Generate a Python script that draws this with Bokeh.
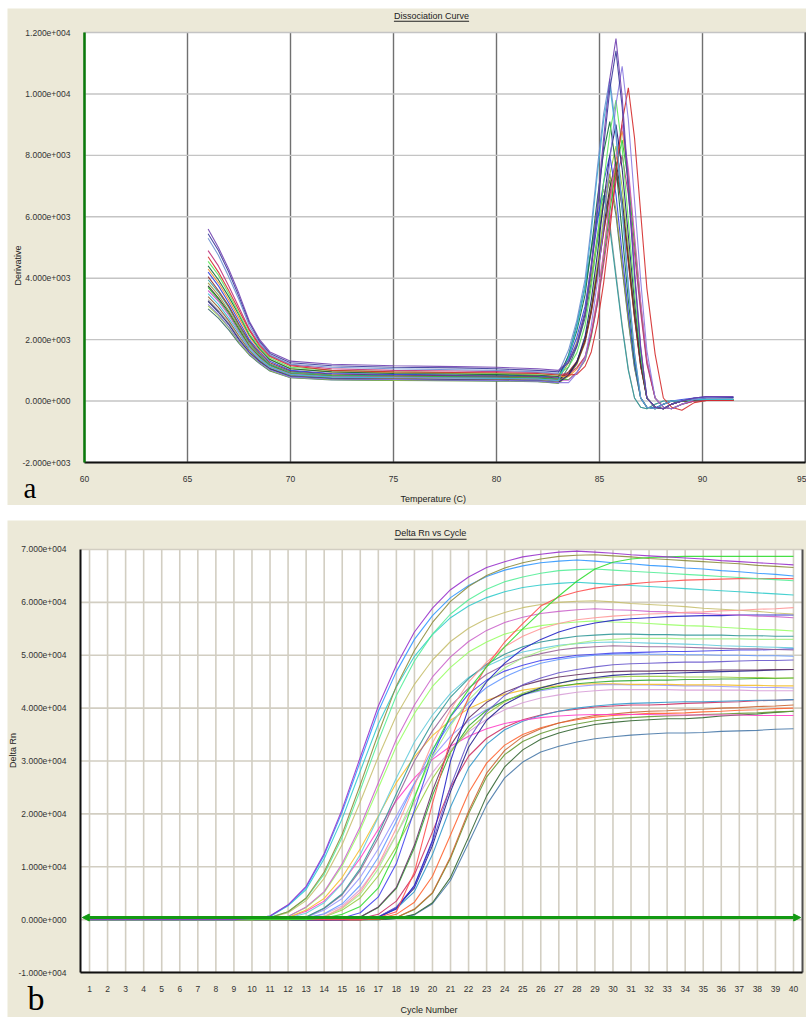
import math
from bokeh.plotting import figure
from bokeh.layouts import column, row
from bokeh.models import (Range1d, Label, BoxAnnotation, Arrow, NormalHead,
                          FixedTicker, Spacer)
from bokeh.embed import file_html
from bokeh.resources import INLINE

# ---------------- Panel a: dissociation (melt) curves, values in thousands ----------------
melt_temp = [66, 66.5, 67, 67.5, 68, 68.5, 69, 70, 72, 75, 78, 80, 82, 83,
             83.5, 83.9, 84.3, 84.6, 84.9, 85.2, 85.5, 85.8, 86.1, 86.4, 86.7, 87.0,
             87.3, 87.7, 88.1, 88.5, 89.0, 89.6, 90.2, 91.5]

a_purple = [5.6, 5.0, 4.3, 3.5, 2.6, 2.0, 1.6, 1.3, 1.2, 1.15, 1.12, 1.1, 1.05, 1.0,
            1.32, 1.86, 2.94, 4.46, 6.4, 8.56, 10.5, 11.8, 9.91, 7.08, 4.25, 1.77, 0.1, -0.2, -0.25, -0.1, 0.0, 0.1, 0.15, 0.15]
a_navy = [5.45, 4.9, 4.2, 3.4, 2.55, 1.95, 1.55, 1.25, 1.15, 1.1, 1.08, 1.05, 1.0, 0.95,
          1.26, 1.79, 2.83, 4.29, 6.18, 8.27, 10.15, 11.4, 9.58, 6.84, 4.1, 1.71, 0.1, -0.2, -0.25, -0.1, 0.0, 0.1, 0.15, 0.12]
a_steel = [5.3, 4.75, 4.05, 3.3, 2.45, 1.9, 1.5, 1.2, 1.1, 1.05, 1.02, 1.0, 0.95, 0.9,
           1.67, 2.63, 3.97, 5.7, 7.62, 9.35, 10.5, 8.82, 6.3, 3.78, 1.58, 0.1, -0.2, -0.25, -0.1, 0.0, 0.02, 0.08, 0.1, 0.1]
a_red = [4.7, 4.2, 3.6, 2.95, 2.3, 1.8, 1.45, 1.15, 1.0, 0.95, 0.93, 0.92, 0.9, 0.85,
         0.85, 0.87, 1.13, 1.6, 2.53, 3.84, 5.53, 7.4, 9.08, 10.2, 8.57, 6.12, 3.67, 1.53, 0.1, -0.2, -0.3, -0.05, 0.02, 0.02]
a_lgreen = [4.55, 4.1, 3.5, 2.85, 2.2, 1.75, 1.4, 1.1, 1.0, 0.95, 0.92, 0.9, 0.88, 0.85,
            1.12, 1.57, 2.46, 3.71, 5.33, 7.12, 8.73, 9.8, 8.23, 5.88, 3.53, 1.47, 0.1, -0.2, -0.25, -0.1, 0.0, 0.05, 0.05, 0.05]
a_dgreen = [4.4, 3.95, 3.4, 2.8, 2.15, 1.7, 1.35, 1.05, 0.95, 0.9, 0.88, 0.86, 0.84, 0.8,
            1.46, 2.29, 3.46, 4.95, 6.61, 8.1, 9.1, 7.64, 5.46, 3.28, 1.37, 0.1, -0.2, -0.25, -0.1, 0.0, 0.0, 0.03, 0.05, 0.05]
a_orange = [4.3, 3.85, 3.3, 2.7, 2.1, 1.65, 1.35, 1.05, 0.95, 0.92, 0.9, 0.88, 0.85, 0.8,
            0.8, 1.04, 1.44, 2.24, 3.36, 4.8, 6.4, 7.84, 8.8, 7.39, 5.28, 3.17, 1.32, 0.1, -0.2, -0.25, -0.1, 0.0, 0.03, 0.03]
a_blue = [4.2, 3.75, 3.2, 2.6, 2.0, 1.6, 1.3, 1.0, 0.9, 0.87, 0.85, 0.85, 0.82, 0.78,
          1.36, 2.08, 3.09, 4.39, 5.83, 7.13, 8.0, 6.72, 4.8, 2.88, 1.2, 0.1, -0.2, -0.22, -0.1, 0.0, 0.05, 0.1, 0.12, 0.12]
a_dred = [4.05, 3.6, 3.1, 2.5, 1.95, 1.55, 1.25, 0.98, 0.88, 0.85, 0.83, 0.82, 0.8, 0.75,
          0.95, 1.29, 1.97, 2.91, 4.13, 5.48, 6.69, 7.5, 6.3, 4.5, 2.7, 1.13, 0.1, -0.2, -0.25, -0.1, 0.0, 0.02, 0.03, 0.03]
a_teal = [3.95, 3.55, 3.05, 2.45, 1.9, 1.5, 1.2, 0.95, 0.85, 0.82, 0.8, 0.8, 0.78, 0.72,
          1.5, 2.5, 3.71, 4.91, 5.98, 6.7, 5.63, 4.02, 2.41, 1.0, 0.1, -0.2, -0.25, -0.1, 0.0, 0.0, 0.02, 0.05, 0.05, 0.05]
a_olive = [3.85, 3.45, 2.95, 2.4, 1.85, 1.48, 1.2, 0.93, 0.85, 0.82, 0.8, 0.79, 0.77, 0.72,
           1.25, 1.92, 2.86, 4.06, 5.4, 6.6, 7.4, 6.22, 4.44, 2.66, 1.11, 0.1, -0.2, -0.25, -0.1, 0.0, 0.0, 0.02, 0.03, 0.03]
a_black = [3.75, 3.35, 2.9, 2.35, 1.8, 1.45, 1.18, 0.9, 0.82, 0.8, 0.78, 0.77, 0.75, 0.7,
           0.91, 1.27, 1.98, 2.97, 4.25, 5.67, 6.95, 7.8, 6.55, 4.68, 2.81, 1.17, 0.1, -0.2, -0.25, -0.1, 0.0, 0.0, 0.02, 0.02]
a_green = [3.7, 3.3, 2.85, 2.3, 1.78, 1.42, 1.15, 0.9, 0.82, 0.8, 0.78, 0.76, 0.74, 0.7,
           0.7, 0.93, 1.32, 2.1, 3.2, 4.6, 6.16, 7.56, 8.5, 7.14, 5.1, 3.06, 1.28, 0.1, -0.2, -0.25, -0.1, 0.0, 0.02, 0.02]
a_pink = [3.6, 3.25, 2.8, 2.25, 1.75, 1.4, 1.12, 0.88, 0.8, 0.78, 0.76, 0.75, 0.72, 0.68,
          0.68, 0.93, 1.35, 2.18, 3.34, 4.84, 6.5, 8.0, 9.0, 7.56, 5.4, 3.24, 1.35, 0.1, -0.2, -0.25, -0.1, 0.0, 0.05, 0.05]
a_cyan = [3.5, 3.15, 2.7, 2.2, 1.7, 1.36, 1.1, 0.86, 0.78, 0.76, 0.75, 0.74, 0.72, 0.66,
          1.43, 2.4, 3.74, 5.48, 7.41, 9.14, 10.3, 8.65, 6.18, 3.71, 1.55, 0.1, -0.2, -0.25, -0.1, 0.0, 0.02, 0.05, 0.05, 0.05]
a_brown = [3.4, 3.05, 2.62, 2.12, 1.65, 1.32, 1.07, 0.84, 0.76, 0.74, 0.72, 0.72, 0.7, 0.65,
           0.86, 1.21, 1.9, 2.87, 4.13, 5.52, 6.77, 7.6, 6.38, 4.56, 2.74, 1.14, 0.1, -0.2, -0.25, -0.1, 0.0, 0.02, 0.02, 0.02]
a_gray = [3.3, 2.95, 2.55, 2.05, 1.6, 1.3, 1.05, 0.82, 0.75, 0.72, 0.7, 0.7, 0.68, 0.62,
          1.5, 2.5, 3.76, 5.02, 6.15, 6.9, 5.8, 4.14, 2.48, 1.04, 0.1, -0.2, -0.25, -0.1, 0.0, 0.0, 0.02, 0.03, 0.03, 0.03]
a_dnavy = [3.25, 2.9, 2.5, 2.0, 1.58, 1.28, 1.04, 0.8, 0.73, 0.7, 0.69, 0.68, 0.66, 0.6,
           0.85, 1.27, 2.11, 3.29, 4.8, 6.48, 7.99, 9.0, 7.56, 5.4, 3.24, 1.35, 0.1, -0.2, -0.25, -0.1, 0.0, 0.05, 0.1, 0.1]
a_lavender = [3.15, 2.82, 2.42, 1.95, 1.55, 1.26, 1.02, 0.78, 0.72, 0.7, 0.68, 0.67, 0.65, 0.6,
              0.6, 0.91, 1.42, 2.45, 3.9, 5.75, 7.81, 9.66, 10.9, 9.16, 6.54, 3.92, 1.64, 0.1, -0.2, -0.25, -0.1, 0.05, 0.12, 0.12]
a_ygreen = [3.1, 2.78, 2.4, 1.92, 1.52, 1.25, 1.0, 0.77, 0.7, 0.68, 0.66, 0.66, 0.64, 0.58,
            0.81, 1.2, 1.97, 3.05, 4.44, 5.98, 7.37, 8.3, 6.97, 4.98, 2.99, 1.25, 0.1, -0.2, -0.25, -0.1, 0.0, 0.02, 0.02, 0.02]
a_magenta = [4.9, 4.4, 3.75, 3.05, 2.35, 1.85, 1.48, 1.18, 1.05, 1.0, 0.98, 0.96, 0.93, 0.88,
             0.88, 1.09, 1.45, 2.16, 3.16, 4.44, 5.86, 7.15, 8.0, 6.72, 4.8, 2.88, 1.2, 0.1, -0.2, -0.25, -0.1, 0.0, 0.02, 0.02]
a_slate = [3.0, 2.7, 2.32, 1.88, 1.5, 1.22, 0.98, 0.76, 0.69, 0.67, 0.66, 0.65, 0.63, 0.58,
           1.11, 1.77, 2.7, 3.89, 5.21, 6.41, 7.2, 6.05, 4.32, 2.59, 1.08, 0.1, -0.2, -0.25, -0.1, 0.0, 0.0, 0.02, 0.02, 0.02]

a_series = [
    (a_slate, "#3A6A6A"), (a_ygreen, "#9ACD32"), (a_gray, "#9A9A9A"), (a_brown, "#8E5C2E"),
    (a_black, "#2A2A2A"), (a_olive, "#9A9A3A"), (a_teal, "#2E9A9A"), (a_dred, "#8E2C2C"),
    (a_blue, "#3040E0"), (a_orange, "#EE9030"), (a_green, "#2EBB2E"), (a_pink, "#C858C8"),
    (a_magenta, "#C0307A"), (a_dgreen, "#0E6B3B"), (a_dnavy, "#1C1C70"), (a_lgreen, "#5BE85B"),
    (a_cyan, "#38B8D8"), (a_red, "#D42A2A"), (a_lavender, "#8A7AE0"), (a_steel, "#6A8FD0"),
    (a_navy, "#3A3A9A"), (a_purple, "#7040B0"),
]

a_xticks = [60, 65, 70, 75, 80, 85, 90, 95]
a_yticks = [-2000, 0, 2000, 4000, 6000, 8000, 10000, 12000]
a_ylabels = ["-2.000e+003", "0.000e+000", "2.000e+003", "4.000e+003", "6.000e+003",
             "8.000e+003", "1.000e+004", "1.200e+004"]

# ---------------- Panel b: amplification curves (Delta Rn, thousands), each list ends at cycle 40 ----------------
b_purple = [0.2, 0.7, 2.8, 6.3, 12.5, 20.9, 30.7, 40.4, 48.1, 54.4, 58.9, 62.4, 64.8, 66.6, 67.7, 68.6, 69.1, 69.5, 69.7, 69.5, 69.3, 69.0, 68.8, 68.6, 68.4, 68.2, 67.9, 67.7, 67.5, 67.3, 67.1]
b_olive = [0.4, 1.5, 4.1, 9.0, 16.2, 25.5, 35.2, 44.2, 50.9, 56.2, 60.2, 63.0, 65.1, 66.5, 67.5, 68.2, 68.7, 68.9, 69.0, 68.8, 68.6, 68.3, 68.1, 67.9, 67.7, 67.5, 67.3, 67.0, 66.8, 66.6]
b_blue = [0.2, 0.7, 2.7, 6.1, 12.2, 20.4, 29.9, 39.4, 46.9, 53.0, 57.5, 60.9, 63.2, 64.9, 66.1, 66.9, 67.5, 67.8, 68.0, 67.8, 67.5, 67.3, 67.0, 66.8, 66.5, 66.3, 66.0, 65.8, 65.5, 65.3, 65.0]
b_mint = [0.4, 1.5, 4.0, 8.6, 15.6, 24.5, 33.8, 42.4, 48.9, 54.0, 57.8, 60.5, 62.5, 63.9, 64.8, 65.5, 66.0, 66.2, 66.3, 66.1, 65.9, 65.7, 65.5, 65.3, 65.1, 64.9, 64.7, 64.5, 64.3, 64.1]
b_cyan = [0.2, 0.6, 2.6, 5.7, 11.5, 19.1, 28.1, 37.0, 44.0, 49.8, 53.9, 57.1, 59.3, 60.9, 62.0, 62.8, 63.3, 63.6, 63.8, 63.6, 63.4, 63.2, 63.0, 62.8, 62.6, 62.4, 62.2, 62.0, 61.8, 61.6, 61.4]
b_khaki = [0.4, 1.3, 3.6, 7.8, 14.2, 22.3, 30.8, 38.6, 44.5, 49.1, 52.6, 55.1, 56.9, 58.1, 59.0, 59.6, 60.0, 60.2, 60.3, 60.1, 59.8, 59.6, 59.4, 59.2, 58.9, 58.7, 58.5, 58.3, 58.0, 57.8]
b_magenta = [0.2, 0.6, 2.4, 5.3, 10.6, 17.6, 25.9, 34.1, 40.6, 45.9, 49.7, 52.6, 54.7, 56.2, 57.2, 57.9, 58.3, 58.6, 58.8, 58.6, 58.5, 58.3, 58.2, 58.0, 57.9, 57.7, 57.6, 57.4, 57.3, 57.1]
b_lgreen = [0.2, 0.6, 2.3, 5.1, 10.2, 17.0, 24.9, 32.8, 39.0, 44.1, 47.7, 50.6, 52.5, 54.0, 54.9, 55.6, 56.0, 56.3, 56.5, 56.3, 56.2, 56.0, 55.8, 55.6, 55.5, 55.3, 55.1, 54.9, 54.8, 54.6]
b_bgreen = [0.3, 1.0, 2.5, 6.0, 13.0, 23.0, 32.0, 38.5, 43.5, 47.8, 51.6, 55.0, 58.2, 61.2, 64.0, 66.3, 67.6, 68.2, 68.5, 68.6, 68.7, 68.7, 68.7, 68.7, 68.7, 68.7, 68.7]
b_red = [0.4, 1.5, 9.0, 22.0, 34.0, 42.0, 48.0, 52.5, 56.0, 59.3, 61.0, 62.0, 62.7, 63.1, 63.5, 63.8, 64.0, 64.2, 64.3, 64.4, 64.5, 64.5, 64.5, 64.5]
b_dblue = [0.5, 2.0, 6.5, 15.0, 30.0, 40.0, 45.0, 48.5, 51.2, 53.0, 54.4, 55.4, 56.1, 56.6, 56.9, 57.1, 57.3, 57.4, 57.5, 57.5, 57.6, 57.6, 57.6, 57.6]
b_teal = [0.2, 0.5, 2.2, 4.9, 9.7, 16.2, 23.8, 31.3, 37.3, 42.1, 45.6, 48.3, 50.2, 51.6, 52.5, 53.1, 53.6, 53.8, 54.0, 54.0, 53.9, 53.9, 53.8, 53.8, 53.8, 53.7, 53.7, 53.6, 53.6]
b_lcyan = [0.3, 1.2, 3.2, 6.8, 12.3, 19.4, 26.8, 33.6, 38.7, 42.8, 45.8, 47.9, 49.5, 50.6, 51.3, 51.9, 52.2, 52.4, 52.5, 52.4, 52.3, 52.2, 52.1, 52.0, 51.8, 51.7, 51.6, 51.5, 51.4]
b_mauve = [0.2, 0.5, 2.1, 4.7, 9.3, 15.5, 22.8, 30.0, 35.7, 40.4, 43.8, 46.4, 48.2, 49.5, 50.3, 51.0, 51.4, 51.6, 51.8, 51.7, 51.6, 51.6, 51.5, 51.4, 51.3, 51.2, 51.2, 51.1, 51.0]
b_cornflower = [0.3, 1.1, 3.0, 6.5, 11.8, 18.6, 25.7, 32.2, 37.1, 41.0, 43.9, 45.9, 47.4, 48.5, 49.2, 49.7, 50.0, 50.2, 50.3, 50.2, 50.2, 50.1, 50.1, 50.0, 50.0, 49.9, 49.9, 49.8]
b_pgreen = [0.2, 0.5, 2.1, 4.8, 9.6, 16.0, 23.4, 30.9, 36.7, 41.5, 45.0, 47.6, 49.5, 50.8, 51.7, 52.3, 52.8, 53.0, 53.2, 53.2, 53.2, 53.1, 53.1, 53.1, 53.1, 53.0, 53.0, 53.0]
b_navy = [0.1, 0.5, 2.3, 6.0, 14.0, 24.2, 32.6, 37.7, 40.7, 42.5, 43.8, 44.7, 45.4, 45.8, 46.2, 46.4, 46.5, 46.6, 46.7, 46.8, 46.9, 47.0, 47.1, 47.2, 47.3]
b_green = [0.1, 0.5, 2.3, 5.9, 13.6, 23.5, 31.6, 36.6, 39.6, 41.4, 42.6, 43.5, 44.1, 44.6, 44.9, 45.1, 45.2, 45.3, 45.3, 45.4, 45.4, 45.5, 45.5, 45.6, 45.6, 45.7]
b_gold = [0.1, 0.4, 1.8, 4.0, 8.0, 13.4, 19.6, 25.9, 30.8, 34.8, 37.7, 39.9, 41.5, 42.6, 43.4, 43.9, 44.2, 44.5, 44.6, 44.6, 44.5, 44.5, 44.5, 44.4, 44.4, 44.4, 44.3, 44.3, 44.2, 44.2]
b_lilacblue = [0.1, 0.4, 1.8, 4.0, 8.0, 13.4, 19.6, 25.8, 30.7, 34.7, 37.6, 39.8, 41.4, 42.5, 43.3, 43.8, 44.1, 44.4, 44.5, 44.4, 44.4, 44.3, 44.2, 44.2, 44.1, 44.0, 43.9, 43.9, 43.8]
b_pinklilac = [0.3, 1.0, 2.6, 5.7, 10.2, 16.1, 22.2, 27.8, 32.1, 35.5, 37.9, 39.7, 41.0, 41.9, 42.5, 43.0, 43.3, 43.5, 43.5, 43.5, 43.5, 43.4, 43.4, 43.4, 43.4, 43.3, 43.3, 43.3]
b_hotpink = [0.1, 0.4, 1.6, 3.5, 7.0, 11.6, 17.1, 22.5, 26.8, 30.3, 32.8, 34.7, 36.1, 37.1, 37.7, 38.2, 38.5, 38.7, 38.8, 38.8, 38.8, 38.8, 38.7, 38.7, 38.7, 38.7, 38.7, 38.6, 38.6, 38.6]
b_steelcyan = [0.1, 0.4, 2.1, 5.3, 12.3, 21.3, 28.7, 33.2, 35.9, 37.5, 38.6, 39.4, 40.0, 40.4, 40.7, 40.9, 41.0, 41.1, 41.2, 41.2, 41.3, 41.4, 41.5, 41.5, 41.6]
b_crimson = [0.2, 1.0, 3.5, 8.5, 16.6, 25.0, 30.9, 34.3, 36.4, 37.8, 38.7, 39.4, 39.8, 40.2, 40.4, 40.6, 40.6, 40.7, 40.9, 41.0, 41.1, 41.2, 41.4, 41.5, 41.6]
b_obrown = [0.1, 0.4, 2.0, 5.1, 11.9, 20.5, 27.7, 32.0, 34.6, 36.1, 37.2, 38.0, 38.6, 38.9, 39.2, 39.4, 39.5, 39.7, 39.8, 40.0, 40.1, 40.3, 40.4, 40.6]
b_ored = [0.2, 1.0, 3.3, 8.2, 16.0, 24.0, 29.6, 33.0, 35.0, 36.3, 37.2, 37.8, 38.3, 38.6, 38.8, 39.0, 39.0, 39.1, 39.3, 39.4, 39.6, 39.7, 39.9, 40.0]
b_ogreen = [0.1, 0.4, 1.9, 5.0, 11.6, 20.0, 27.0, 31.2, 33.7, 35.2, 36.3, 37.0, 37.6, 38.0, 38.2, 38.4, 38.5, 38.6, 38.8, 38.9, 39.0, 39.1, 39.3, 39.4]
b_dgreen = [0.2, 1.0, 3.2, 8.0, 15.6, 23.4, 28.9, 32.1, 34.1, 35.3, 36.2, 36.9, 37.3, 37.6, 37.8, 38.0, 38.0, 38.2, 38.5, 38.7, 38.9, 39.2, 39.4]
b_steel = [0.2, 0.9, 3.0, 7.4, 14.5, 21.7, 26.8, 29.8, 31.7, 32.8, 33.6, 34.2, 34.6, 34.9, 35.1, 35.3, 35.3, 35.4, 35.6, 35.7, 35.8, 36.0, 36.1]
b_plum = [0.1, 0.5, 2.4, 6.1, 14.1, 24.4, 32.9, 38.1, 41.1, 43.0, 44.3, 45.2, 45.9, 46.3, 46.7, 46.9, 47.0, 47.0, 47.1, 47.1, 47.1, 47.2, 47.2, 47.2, 47.3, 47.3]
b_slateblue = [0.1, 0.5, 2.4, 6.3, 14.6, 25.2, 34.0, 39.3, 42.4, 44.4, 45.7, 46.7, 47.3, 47.8, 48.2, 48.4, 48.5, 48.6, 48.7, 48.7, 48.8, 48.9, 49.0, 49.0, 49.1]
b_ygreen = [0.1, 0.5, 1.8, 4.1, 8.3, 13.8, 20.2, 26.7, 31.7, 35.9, 38.9, 41.2, 42.8, 43.9, 44.7, 45.3, 45.6, 45.9, 46.0, 46.0, 46.0, 45.9, 45.9, 45.9, 45.8, 45.8, 45.7, 45.7]
b_pink = [0.2, 0.6, 2.3, 5.2, 10.4, 17.3, 25.3, 33.4, 39.7, 44.9, 48.7, 51.6, 53.6, 55.0, 56.0, 56.7, 57.1, 57.4, 57.6, 57.8, 57.9, 58.1, 58.2, 58.4, 58.5, 58.7, 58.8, 59.0]
b_blue2 = [0.3, 1.3, 4.3, 10.6, 20.7, 31.1, 38.4, 42.7, 45.3, 47.0, 48.1, 49.0, 49.5, 50.0, 50.2, 50.4, 50.5, 50.6, 50.7, 50.7, 50.8, 50.9, 51.0, 51.0, 51.1, 51.2]

b_series = [
    (b_steel, "#4A7AAA"), (b_dgreen, "#336633"), (b_ogreen, "#669933"), (b_ored, "#FF6633"),
    (b_obrown, "#CC6633"), (b_crimson, "#CC3366"), (b_steelcyan, "#3399CC"), (b_hotpink, "#FF40C8"),
    (b_pinklilac, "#D8A0D8"), (b_lilacblue, "#9999FF"), (b_gold, "#F5C030"), (b_green, "#33AA33"),
    (b_ygreen, "#99CC44"), (b_navy, "#22228F"), (b_plum, "#663366"), (b_slateblue, "#6A5ACD"),
    (b_cornflower, "#6699FF"), (b_blue2, "#4444EE"), (b_mauve, "#996699"), (b_lcyan, "#66CCDD"),
    (b_pgreen, "#A8EE88"), (b_teal, "#339999"), (b_lgreen, "#99FF66"), (b_dblue, "#2525C8"),
    (b_magenta, "#CC66CC"), (b_khaki, "#C8C070"), (b_pink, "#FF9999"), (b_cyan, "#33CCCC"),
    (b_red, "#FF5050"), (b_mint, "#55EE99"), (b_blue, "#3399FF"), (b_olive, "#8E8E3E"),
    (b_bgreen, "#33DD33"), (b_purple, "#9933CC"),
]

cycles = list(range(1, 41))
b_yticks = [-10000, 0, 10000, 20000, 30000, 40000, 50000, 60000, 70000]
b_ylabels = ["-1.000e+004", "0.000e+000", "1.000e+004", "2.000e+004", "3.000e+004",
             "4.000e+004", "5.000e+004", "6.000e+004", "7.000e+004"]
threshold = 400

# ---------------- styling ----------------
BEIGE = "#ECE9D8"
FONT = "Liberation Sans"
SERIF = "Liberation Serif"
TXT = "#333333"


def make_fig(w, h, xr, yr):
    p = figure(width=w, height=h, x_range=Range1d(*xr), y_range=Range1d(*yr),
               min_border_left=0, min_border_right=0, min_border_top=0, min_border_bottom=0,
               output_backend="svg", toolbar_location=None, border_fill_color=BEIGE,
               background_fill_color=BEIGE, outline_line_color=None)
    p.xgrid.visible = False
    p.ygrid.visible = False
    for ax in (p.xaxis[0], p.yaxis[0]):
        ax.major_tick_line_color = None
        ax.minor_tick_line_color = None
        ax.major_label_text_font = FONT
        ax.major_label_text_font_size = "8.5px"
        ax.major_label_text_color = TXT
    p.xaxis.major_label_standoff = 7
    p.yaxis.major_label_standoff = 8
    return p


def text(p, x, y, s, size="9px", font=FONT, align="left", angle=0.0, color="#222222"):
    p.add_layout(Label(x=x, y=y, text=s, text_align=align, text_baseline="middle", angle=angle,
                       text_font=font, text_font_size=size, text_color=color))


# ---- figure a (plot area 60..95 x -2000..12000) ----
pa = make_fig(799, 497, (56.2621, 95.0485), (-3400.0, 12781.4))
pa.quad(left=[60], right=[95], bottom=[-2000], top=[12000], fill_color="white", line_color=None)
pa.segment(x0=a_xticks, y0=[-2000] * len(a_xticks), x1=a_xticks, y1=[12000] * len(a_xticks),
           line_color="#707070", line_width=1.4)
pa.segment(x0=[60] * len(a_yticks), y0=a_yticks, x1=[95] * len(a_yticks), y1=a_yticks,
           line_color="#C4C4C4", line_width=1.4)
pa.segment(x0=[95], y0=[-2000], x1=[95], y1=[12000], line_color="#505050", line_width=2)

for vals, col in a_series:
    pa.line(melt_temp, [v * 1000 for v in vals], line_color=col, line_width=1.1, line_alpha=0.9)

pa.xaxis.ticker = FixedTicker(ticks=a_xticks)
pa.xaxis.fixed_location = -2000
pa.xaxis.bounds = (60, 95)
pa.yaxis.ticker = FixedTicker(ticks=a_yticks)
pa.yaxis.fixed_location = 60
pa.yaxis.bounds = (-2000, 12000)
pa.yaxis.major_label_overrides = dict(zip(a_yticks, a_ylabels))
pa.yaxis.axis_line_color = "#0A7A0A"
pa.yaxis.axis_line_width = 2.5
pa.xaxis.axis_line_color = "#111111"
pa.xaxis.axis_line_width = 2

text(pa, 76.845, 12553, "Dissociation Curve", align="center")
pa.add_layout(BoxAnnotation(left=75.02, right=78.67, bottom=12352, top=12384, fill_color="#222222",
                            fill_alpha=1.0, line_color=None))
text(pa, 75.34, -3180, "Temperature (C)")
text(pa, 56.796, 4414, "Derivative", align="center", angle=math.pi / 2)
text(pa, 57.039, -2846, "a", size="29px", font=SERIF, color="black")

# ---- figure b (plot area 0.5..40.5 x -10000..70000) ----
pb = make_fig(799, 497, (-3.5443, 40.7216), (-18510.6, 75484.6))
pb.quad(left=[0.5], right=[40.5], bottom=[-10000], top=[70000], fill_color="white", line_color=None)
pb.segment(x0=cycles, y0=[-10000] * len(cycles), x1=cycles, y1=[70000] * len(cycles),
           line_color="#D2CEC2", line_width=1.6)
pb.segment(x0=[0.5] * len(b_yticks), y0=b_yticks, x1=[40.5] * len(b_yticks), y1=b_yticks,
           line_color="#D2CEC2", line_width=1.6)
pb.segment(x0=[40.5], y0=[-10000], x1=[40.5], y1=[70000], line_color="#505050", line_width=2)

for vals, col in b_series:
    start = 41 - len(vals)
    ys = [0.0] * (start - 1) + list(vals)
    pb.line(cycles[:len(ys)], [v * 1000 for v in ys], line_color=col, line_width=1.1, line_alpha=0.9)

pb.xaxis.ticker = FixedTicker(ticks=cycles)
pb.xaxis.fixed_location = -10000
pb.xaxis.bounds = (0.5, 40.5)
pb.yaxis.ticker = FixedTicker(ticks=b_yticks)
pb.yaxis.fixed_location = 0.5
pb.yaxis.bounds = (-10000, 70000)
pb.yaxis.major_label_overrides = dict(zip(b_yticks, b_ylabels))
pb.yaxis.axis_line_color = "#111111"
pb.yaxis.axis_line_width = 2
pb.xaxis.axis_line_color = "#111111"
pb.xaxis.axis_line_width = 2

G = "#139A13"
pb.add_layout(Arrow(start=NormalHead(size=7, fill_color=G, line_color=G),
                    end=NormalHead(size=7, fill_color=G, line_color=G),
                    x_start=0.6, y_start=threshold, x_end=40.4, y_end=threshold,
                    line_color=G, line_width=3))

text(pb, 19.89, 73026, "Delta Rn vs Cycle", align="center")
pb.add_layout(BoxAnnotation(left=17.90, right=21.89, bottom=71853, top=72043, fill_color="#222222",
                            fill_alpha=1.0, line_color=None))
text(pb, 18.228, -17000, "Cycle Number")
text(pb, -3.267, 31986, "Delta Rn", align="center", angle=math.pi / 2)
text(pb, -2.436, -15000, "b", size="34px", font=SERIF, color="black")

layout = row(Spacer(width=7), column(Spacer(height=8), pa, Spacer(height=15), pb))
open("out.html", "w").write(file_html(layout, INLINE))
